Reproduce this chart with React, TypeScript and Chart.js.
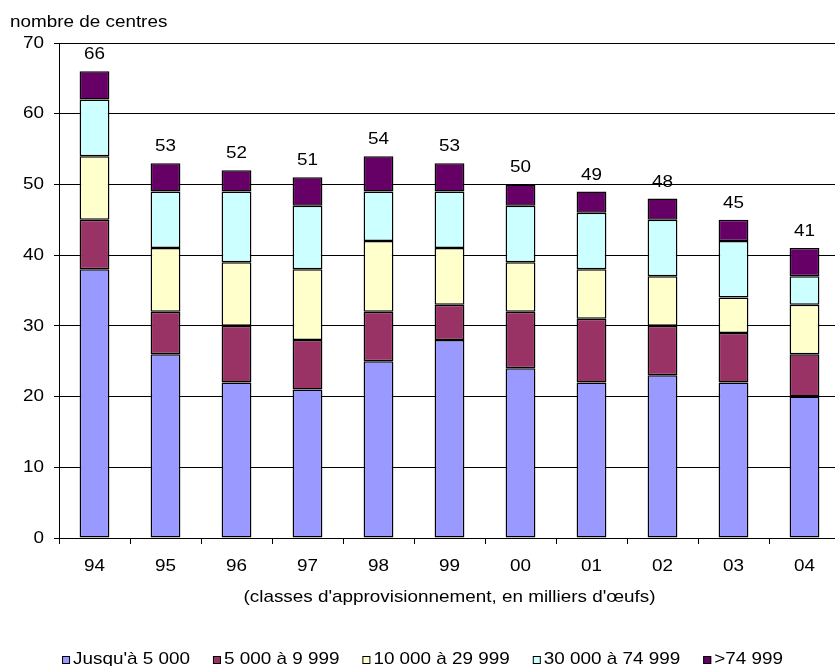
import { useEffect, useRef } from 'react';
import { Chart, registerables } from 'chart.js';

Chart.register(...registerables);

// Years (two-digit)
const CATEGORIES = ['94', '95', '96', '97', '98', '99', '00', '01', '02', '03', '04'];

// Number of centres per supply class
const UP_TO_5000 = [38, 26, 22, 21, 25, 28, 24, 22, 23, 22, 20];
const FROM_5000 = [7, 6, 8, 7, 7, 5, 8, 9, 7, 7, 6];
const FROM_10000 = [9, 9, 9, 10, 10, 8, 7, 7, 7, 5, 7];
const FROM_30000 = [8, 8, 10, 9, 7, 8, 8, 8, 8, 8, 4];
const ABOVE_74999 = [4, 4, 3, 4, 5, 4, 3, 3, 3, 3, 4];

const SERIES_LABELS = [
  "Jusqu'à 5 000",
  '5 000 à 9 999',
  '10 000 à 29 999',
  '30 000 à 74 999',
  '>74 999',
];
const SERIES_COLORS = ['#9999FF', '#993366', '#FFFFCC', '#CCFFFF', '#660066'];

const Y_TITLE = 'nombre de centres';
const X_TITLE = "(classes d'approvisionnement, en milliers d'œufs)";

const FONT = '17px "Liberation Sans", Arial, sans-serif';
// text is set slightly wide
const STRETCH = 1.11;

function wideText(ctx: CanvasRenderingContext2D, text: string, x: number, y: number, align: CanvasTextAlign) {
  ctx.save();
  ctx.translate(x, y);
  ctx.scale(STRETCH, 1);
  ctx.textAlign = align;
  ctx.fillText(text, 0, 0);
  ctx.restore();
}

// Axis labels, captions, stack totals and the legend row.
const annotations = {
  id: 'annotations',
  afterDraw(chart: any) {
    const { ctx, scales, chartArea } = chart;
    const sets = chart.data.datasets;
    const xs = scales.x;
    const ys = scales.y;
    ctx.save();
    ctx.fillStyle = '#000';
    ctx.font = FONT;
    ctx.textBaseline = 'middle';

    // y tick labels
    ys.ticks.forEach((t: any) => {
      wideText(ctx, String(t.value), 44, ys.getPixelForValue(t.value), 'right');
    });
    // x tick labels
    CATEGORIES.forEach((c, i) => {
      wideText(ctx, c, xs.getPixelForValue(i), chartArea.bottom + 28, 'center');
    });
    // axis captions
    wideText(ctx, X_TITLE, (chartArea.left + chartArea.right) / 2, chartArea.bottom + 59, 'center');
    wideText(ctx, Y_TITLE, 10, 22, 'left');

    // stack totals
    ctx.textBaseline = 'alphabetic';
    CATEGORIES.forEach((_, i) => {
      const total = sets.reduce((s: number, d: any) => s + d.data[i], 0);
      wideText(ctx, String(total), xs.getPixelForValue(i), ys.getPixelForValue(total) - 12, 'center');
    });

    // legend
    const box = 8;
    const gap = 3;
    const spacing = 23;
    const widths = sets.map((d: any) => ctx.measureText(d.label).width * STRETCH);
    const total =
      widths.reduce((s: number, w: number) => s + w + box + gap, 0) + spacing * (sets.length - 1);
    let x = chart.width / 2 - total / 2;
    const ly = 659;
    ctx.textBaseline = 'middle';
    sets.forEach((d: any, k: number) => {
      ctx.fillStyle = d.backgroundColor;
      ctx.fillRect(x, ly - box / 2 + 1, box, box);
      ctx.strokeStyle = '#000';
      ctx.lineWidth = 1;
      ctx.strokeRect(x + 0.5, ly - box / 2 + 1.5, box - 1, box - 1);
      ctx.fillStyle = '#000';
      wideText(ctx, d.label, x + box + gap, ly, 'left');
      x += box + gap + widths[k] + spacing;
    });
    ctx.restore();
  },
};

export default function App() {
  const ref = useRef<HTMLCanvasElement>(null);

  useEffect(() => {
    const series = [UP_TO_5000, FROM_5000, FROM_10000, FROM_30000, ABOVE_74999];
    const chart = new Chart(ref.current!, {
      type: 'bar',
      data: {
        labels: CATEGORIES,
        datasets: series.map((values, k) => ({
          label: SERIES_LABELS[k],
          data: values,
          backgroundColor: SERIES_COLORS[k],
          borderColor: '#000',
          borderWidth: 1.5,
          borderSkipped: false,
          barPercentage: 0.42,
          categoryPercentage: 1,
        })),
      },
      options: {
        animation: false,
        responsive: true,
        maintainAspectRatio: false,
        layout: { padding: { top: 43, left: 0, right: 5, bottom: 58 } },
        scales: {
          x: {
            stacked: true,
            grid: { drawOnChartArea: false, color: '#000', tickLength: 6 },
            border: { color: '#000' },
            ticks: { color: 'rgba(0,0,0,0)' },
            afterFit: (s: any) => {
              s.height = 70;
            },
          },
          y: {
            stacked: true,
            min: 0,
            max: 70,
            grid: { color: '#000', tickLength: 5 },
            border: { color: '#000' },
            ticks: { stepSize: 10, color: 'rgba(0,0,0,0)' },
            afterFit: (s: any) => {
              s.width = 59;
            },
          },
        },
        plugins: {
          legend: { display: false },
          tooltip: { enabled: false },
        },
      },
      plugins: [annotations],
    });
    return () => chart.destroy();
  }, []);

  return (
    <div
      style={{
        position: 'fixed',
        left: 0,
        top: 0,
        width: 835,
        height: 666,
        overflow: 'hidden',
        background: '#fff',
      }}
    >
      <div style={{ position: 'relative', width: 845, height: 666 }}>
        <canvas ref={ref} />
      </div>
    </div>
  );
}
